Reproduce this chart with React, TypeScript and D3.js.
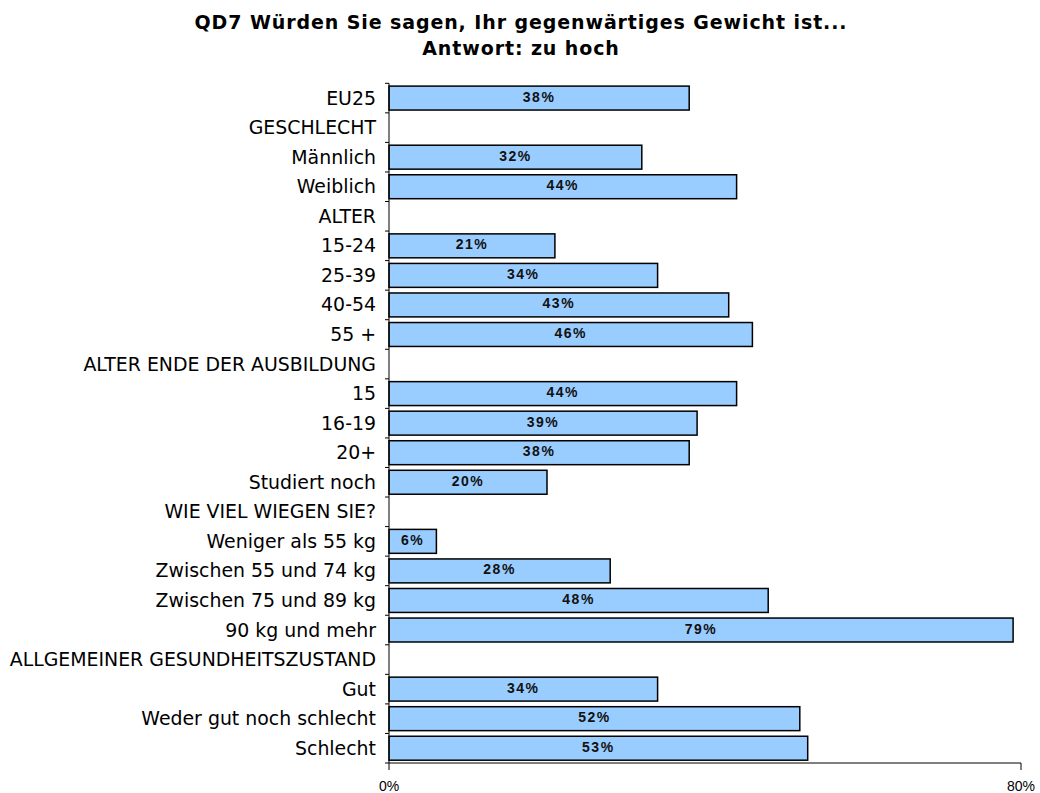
import * as d3 from 'd3'

const categories = [
  'EU25', 'GESCHLECHT', 'Männlich', 'Weiblich', 'ALTER', '15-24', '25-39', '40-54', '55 +',
  'ALTER ENDE DER AUSBILDUNG', '15', '16-19', '20+', 'Studiert noch',
  'WIE VIEL WIEGEN SIE?', 'Weniger als 55 kg', 'Zwischen 55 und 74 kg', 'Zwischen 75 und 89 kg', '90 kg und mehr',
  'ALLGEMEINER GESUNDHEITSZUSTAND', 'Gut', 'Weder gut noch schlecht', 'Schlecht',
]
const values: (number | null)[] = [
  38, null, 32, 44, null, 21, 34, 43, 46,
  null, 44, 39, 38, 20,
  null, 6, 28, 48, 79,
  null, 34, 52, 53,
]
const xTicks = [0, 80]

const W = 1040, H = 793
const margin = {top: 83.3, right: 19, bottom: 30, left: 389}

export default function App() {
  const x = d3.scaleLinear().domain([0, 80]).range([margin.left, W - margin.right])
  const y = d3.scaleBand<string>()
    .domain(categories)
    .range([margin.top, H - margin.bottom])
    .paddingInner(0.19)
    .paddingOuter(0.095)
  const step = y.step()
  const gap = step * 0.19 / 2
  const y0 = margin.top
  const y1 = H - margin.bottom

  return (
    <svg width={W} height={H} style={{position: 'absolute', left: 0, top: 0}}>
      <rect width={W} height={H} fill="#fff" />
      <g fontFamily="'DejaVu Sans', Verdana, sans-serif" fontWeight="bold" fontSize={19}
        letterSpacing={0.9} textAnchor="middle">
        <text x={521} y={29}>QD7 Würden Sie sagen, Ihr gegenwärtiges Gewicht ist...</text>
        <text x={521} y={55}>Antwort: zu hoch</text>
      </g>

      {/* bars */}
      {categories.map((c, i) => {
        const v = values[i]
        if (v == null) return null
        return (
          <g key={c}>
            <rect x={x(0)} y={y(c)} width={x(v) - x(0)} height={y.bandwidth()}
              fill="#99ccff" stroke="#000" strokeWidth={1.5} />
            <text x={(x(0) + x(v)) / 2} y={y(c)! + y.bandwidth() / 2 + 3.5}
              textAnchor="middle" fontFamily="'Liberation Sans', Arial, sans-serif"
              fontWeight="bold" fontSize={14} letterSpacing={1.5} fill="#111">{v}%</text>
          </g>
        )
      })}

      {/* category labels */}
      {categories.map(c => (
        <text key={'l' + c} x={376} y={y(c)! + y.bandwidth() / 2 + 6.5} textAnchor="end"
          fontFamily="'DejaVu Sans', Verdana, sans-serif" fontSize={18.9} fill="#000">{c}</text>
      ))}

      {/* y axis */}
      <line x1={x(0)} x2={x(0)} y1={y0} y2={y1} stroke="#000" strokeWidth={1} />
      {categories.map(c => (
        <line key={'t' + c} x1={x(0) - 4} x2={x(0)} y1={y(c)! - gap} y2={y(c)! - gap} stroke="#000" />
      ))}
      <line x1={x(0) - 4} x2={x(0)} y1={y1} y2={y1} stroke="#000" />

      {/* x axis */}
      <line x1={x(0)} x2={x(80)} y1={y1} y2={y1} stroke="#000" strokeWidth={1} />
      {xTicks.map(t => (
        <g key={'x' + t}>
          <line x1={x(t)} x2={x(t)} y1={y1} y2={y1 + 7} stroke="#000" />
          <text x={x(t)} y={791} textAnchor="middle" fontFamily="'Liberation Sans', Arial, sans-serif"
            fontSize={14} fill="#000">{t}%</text>
        </g>
      ))}
    </svg>
  )
}
